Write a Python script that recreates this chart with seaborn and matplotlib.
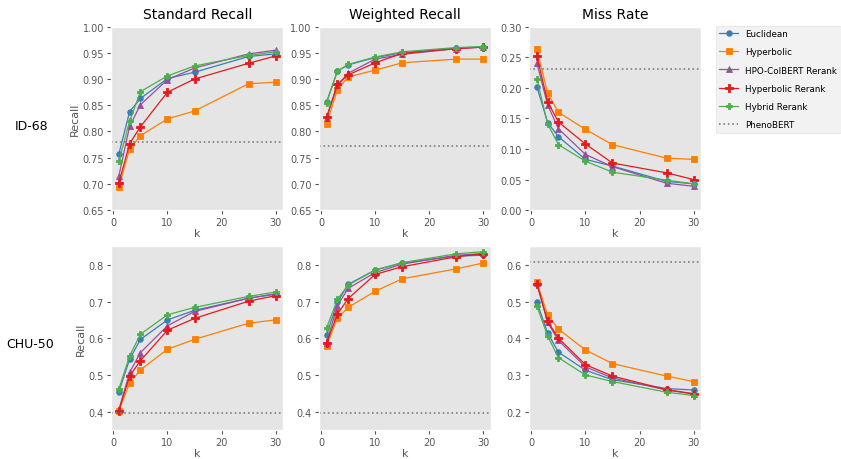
import matplotlib.pyplot as plt
import pandas as pd
import seaborn as sns

plt.style.use("ggplot")

k_values = [1, 3, 5, 10, 15, 25, 30]
methods = ["Euclidean", "Hyperbolic", "HPO-ColBERT Rerank", "Hyperbolic Rerank", "Hybrid Rerank"]
colors = ["#377eb8", "#ff7f00", "#984ea3", "#e41a1c", "#4daf4a"]
markers = ["o", "s", "^", "P", "P"]
msizes = [4, 4, 4.5, 5.5, 4.5]

# ID-68
id68_std = [
    [0.757, 0.838, 0.863, 0.901, 0.913, 0.943, 0.948],
    [0.694, 0.767, 0.792, 0.824, 0.839, 0.891, 0.894],
    [0.715, 0.810, 0.851, 0.899, 0.921, 0.948, 0.955],
    [0.702, 0.777, 0.809, 0.875, 0.900, 0.930, 0.944],
    [0.743, 0.820, 0.876, 0.906, 0.925, 0.945, 0.952],
]
id68_wtd = [
    [0.856, 0.915, 0.927, 0.941, 0.950, 0.959, 0.961],
    [0.814, 0.880, 0.904, 0.917, 0.931, 0.938, 0.938],
    [0.826, 0.888, 0.911, 0.938, 0.947, 0.958, 0.961],
    [0.827, 0.890, 0.908, 0.931, 0.949, 0.958, 0.961],
    [0.855, 0.915, 0.928, 0.942, 0.952, 0.960, 0.962],
]
id68_miss = [
    [0.202, 0.143, 0.120, 0.083, 0.072, 0.047, 0.043],
    [0.263, 0.191, 0.160, 0.132, 0.107, 0.085, 0.083],
    [0.241, 0.172, 0.133, 0.091, 0.071, 0.044, 0.039],
    [0.252, 0.177, 0.144, 0.108, 0.077, 0.061, 0.050],
    [0.215, 0.141, 0.107, 0.080, 0.062, 0.049, 0.043],
]
id68_pheno = [0.780, 0.772, 0.231]

# CHU-50
chu50_std = [
    [0.454, 0.543, 0.597, 0.650, 0.676, 0.709, 0.720],
    [0.403, 0.478, 0.514, 0.570, 0.597, 0.641, 0.650],
    [0.405, 0.507, 0.561, 0.634, 0.673, 0.709, 0.721],
    [0.403, 0.497, 0.539, 0.622, 0.654, 0.701, 0.716],
    [0.462, 0.552, 0.611, 0.664, 0.684, 0.714, 0.726],
]
chu50_wtd = [
    [0.610, 0.698, 0.747, 0.786, 0.805, 0.824, 0.826],
    [0.580, 0.654, 0.684, 0.728, 0.762, 0.789, 0.805],
    [0.588, 0.689, 0.736, 0.779, 0.802, 0.826, 0.831],
    [0.587, 0.666, 0.708, 0.774, 0.795, 0.822, 0.830],
    [0.628, 0.706, 0.745, 0.786, 0.806, 0.830, 0.836],
]
chu50_miss = [
    [0.499, 0.414, 0.362, 0.313, 0.287, 0.263, 0.259],
    [0.554, 0.463, 0.425, 0.368, 0.331, 0.297, 0.282],
    [0.550, 0.443, 0.394, 0.322, 0.292, 0.259, 0.248],
    [0.549, 0.446, 0.400, 0.328, 0.297, 0.260, 0.249],
    [0.488, 0.406, 0.347, 0.300, 0.282, 0.253, 0.244],
]
chu50_pheno = [0.396, 0.396, 0.608]

titles = ["Standard Recall", "Weighted Recall", "Miss Rate"]
row_names = ["ID-68", "CHU-50"]

fig = plt.figure(figsize=(8.41, 4.6), dpi=100)
lefts = [0.132, 0.379, 0.629]
bottoms = [0.541, 0.063]
w, h = 0.205, 0.399

rows = [
    ([id68_std, id68_wtd, id68_miss], id68_pheno, [(0.65, 1.0), (0.65, 1.0), (0.0, 0.30)]),
    ([chu50_std, chu50_wtd, chu50_miss], chu50_pheno, [(0.35, 0.85), (0.35, 0.85), (0.15, 0.65)]),
]

for r, (panels, pheno, lims) in enumerate(rows):
    for c in range(3):
        ax = fig.add_axes([lefts[c], bottoms[r], w, h])
        ax.grid(False)
        for i, m in enumerate(methods):
            df = pd.DataFrame({"k": k_values, "v": panels[c][i]})
            sns.lineplot(data=df, x="k", y="v", ax=ax, color=colors[i], marker=markers[i],
                         markersize=msizes[i], linewidth=0.9, markeredgewidth=0.6,
                         markeredgecolor=colors[i], label=m)
        ax.axhline(pheno[c], color="gray", linestyle=":", linewidth=1.2, label="PhenoBERT")
        ax.set_ylim(*lims[c])
        ax.set_xticks([0, 10, 20, 30])
        if r == 0 and c < 2:
            ax.set_yticks([0.65, 0.70, 0.75, 0.80, 0.85, 0.90, 0.95, 1.00])
            ax.set_yticklabels([f"{t:.2f}" for t in ax.get_yticks()])
        elif r == 0:
            ax.set_yticks([0.0, 0.05, 0.10, 0.15, 0.20, 0.25, 0.30])
            ax.set_yticklabels([f"{t:.2f}" for t in ax.get_yticks()])
        elif c < 2:
            ax.set_yticks([0.4, 0.5, 0.6, 0.7, 0.8])
        else:
            ax.set_yticks([0.2, 0.3, 0.4, 0.5, 0.6])
        ax.tick_params(labelsize=7, colors="#555555", length=3, pad=2)
        ax.set_xlabel("k", fontsize=8, color="#555555", labelpad=1)
        ax.set_ylabel("Recall" if c == 0 else "", fontsize=8, color="#555555", labelpad=2)
        if r == 0:
            ax.set_title(titles[c], fontsize=10, color="black", pad=6)
        ax.get_legend().remove()
        if r == 0 and c == 0:
            handles, labels = ax.get_legend_handles_labels()

fig.text(0.038, 0.724, row_names[0], fontsize=9, ha="center", va="center")
fig.text(0.036, 0.252, row_names[1], fontsize=9, ha="center", va="center")

fig.legend(handles, labels, loc="upper left", bbox_to_anchor=(0.851, 0.942), fontsize=6.3,
           frameon=True, facecolor="#efefef", edgecolor="#dddddd", handlelength=2.2,
           handletextpad=0.8, borderpad=0.4, labelspacing=1.05, borderaxespad=0)

plt.savefig("out.png", dpi=100)
